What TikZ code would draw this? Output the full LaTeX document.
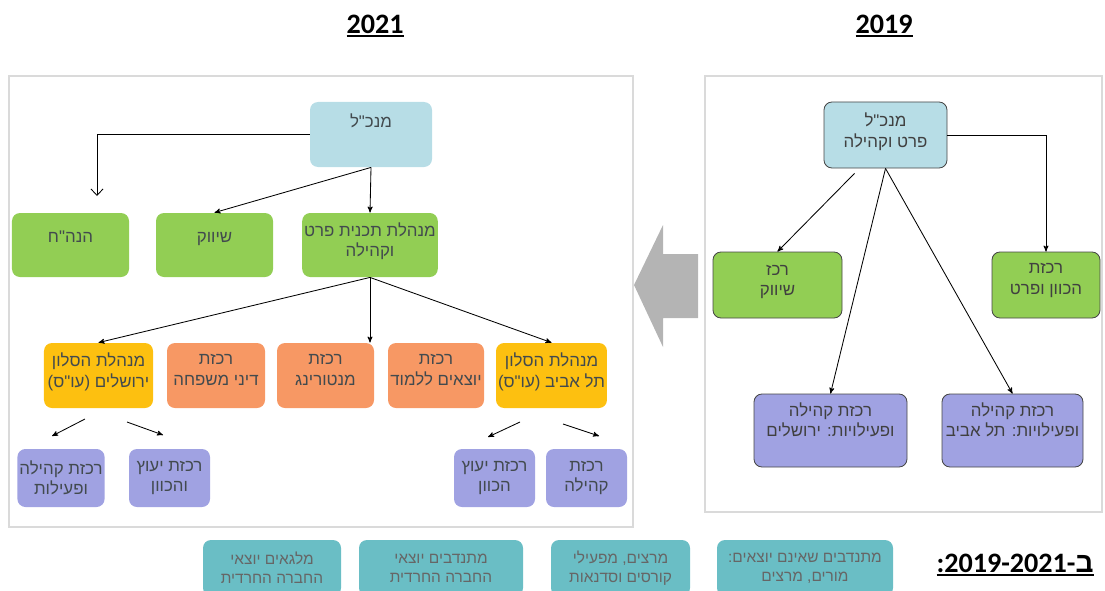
\documentclass[tikz,border=0pt]{standalone}
\usepackage{fontspec}
\setmainfont{Liberation Sans}
\newfontfamily\heb[Script=Hebrew]{Liberation Sans}
\newfontfamily\carl{Carlito}
\TeXXeTstate=1
\usetikzlibrary{arrows,arrows.meta}
\definecolor{frame_gray}{RGB}{218,218,218}
\definecolor{head_blue}{RGB}{183,221,230}
\definecolor{unit_green}{RGB}{146,206,84}
\definecolor{unit_orange}{RGB}{247,152,100}
\definecolor{unit_gold}{RGB}{253,192,16}
\definecolor{unit_lav}{RGB}{160,162,226}
\definecolor{vol_teal}{RGB}{106,190,197}
\definecolor{arrow_gray}{RGB}{180,180,180}
\definecolor{text_gray}{RGB}{66,74,78}
\definecolor{edge_dark}{RGB}{70,70,70}
\newcommand{\rl}[1]{\beginR #1\endR}
\newcommand{\titul}[1]{\setbox0=\hbox{#1}\leavevmode\rlap{\rule[-2.6pt]{\wd0}{1.3pt}}\box0}

\begin{document}
\begin{tikzpicture}[->,>=stealth',line width=0.6pt,x=0.25mm,y=-0.25mm]
    \tikzstyle{box}=[rounded corners=2mm, align=center, inner sep=0.5mm, text=text_gray, font=\heb\fontsize{12}{14.5}\selectfont]
    \tikzstyle{head}=[box, fill=head_blue]
    \tikzstyle{grnbox}=[box, fill=unit_green]
    \tikzstyle{orgbox}=[box, fill=unit_orange, minimum height=16.25mm, text depth=2.8mm]
    \tikzstyle{goldbox}=[box, fill=unit_gold, minimum height=16.25mm, text depth=2.6mm]
    \tikzstyle{lavbox}=[box, fill=unit_lav]
    \tikzstyle{volbox}=[box, fill=vol_teal, font=\heb\fontsize{11}{13.5}\selectfont, text=black!60, minimum height=14mm]
    \tikzstyle{ruled}=[draw=edge_dark, line width=0.6pt, text=black!75]
    \tikzstyle{title}=[font=\carl\bfseries\fontsize{20}{24}\selectfont, text=black]

    \useasboundingbox (0,0) rectangle (1105,590);

    % panels
    \draw[-,frame_gray,line width=0.8pt] (9,76) rectangle (633,527);
    \draw[-,frame_gray,line width=0.8pt] (705,76) rectangle (1102,512);
    \node[title] (y2021) at (375,26) {\titul{2021}};
    \node[title] (y2019) at (884,26) {\titul{2019}};

    % 2021
    \node[head, minimum width=30.5mm, minimum height=16.25mm, text depth=7mm] (mgrL) at (371,134.5) {\rl{מנכ"ל}};
    \node[grnbox, minimum width=29.25mm, minimum height=16mm, text depth=4mm] (hnh) at (70.5,245) {\rl{הנה"ח}};
    \node[grnbox, minimum width=29.25mm, minimum height=16mm, text depth=4mm] (shv) at (214.5,245) {\rl{שיווק}};
    \node[grnbox, minimum width=33.5mm, minimum height=16mm, text depth=2.75mm] (mgmt) at (370,245) {\rl{מנהלת תכנית פרט}\\\rl{וקהילה}};

    \node[goldbox, minimum width=27.25mm] (jer) at (98.5,375.5) {\rl{מנהלת הסלון}\\\rl{ירושלים (עו"ס)}};
    \node[orgbox, minimum width=24.5mm] (fam) at (216,375.5) {\rl{רכזת}\\\rl{דיני משפחה}};
    \node[orgbox, minimum width=24.25mm] (ment) at (325.5,375.5) {\rl{רכזת}\\\rl{מנטורינג}};
    \node[orgbox, minimum width=24mm] (grad) at (436,375.5) {\rl{רכזת}\\\rl{יוצאים ללמוד}};
    \node[goldbox, minimum width=26.25mm] (ta) at (551.5,375.5) {\rl{מנהלת הסלון}\\\rl{תל אביב (עו"ס)}};

    \node[lavbox, minimum width=20.5mm, minimum height=14.5mm] (jcom) at (61,478) {\rl{רכזת קהילה}\\\rl{ופעילות}};
    \node[lavbox, minimum width=20.25mm, minimum height=14.5mm] (jadv) at (169.5,478) {\rl{רכזת יעוץ}\\\rl{והכוון}};
    \node[lavbox, minimum width=20.25mm, minimum height=14.5mm] (tadv) at (494.5,478) {\rl{רכזת יעוץ}\\\rl{הכוון}};
    \node[lavbox, minimum width=20.25mm, minimum height=14.5mm] (tcom) at (586.5,478) {\rl{רכזת}\\\rl{קהילה}};

    \coordinate (hnhin) at (97,196);
    \coordinate (jA) at (85,419);  \coordinate (jAe) at (52,436);
    \coordinate (jB) at (127,422); \coordinate (jBe) at (163,435);
    \coordinate (tA) at (520,422); \coordinate (tAe) at (488,437);
    \coordinate (tB) at (563,424); \coordinate (tBe) at (599,436);

    \path
     (mgrL.west) edge[-{Straight Barb[length=1.6mm,width=3mm]}, to path={-| (\tikztotarget)}] (hnhin)
     (mgrL.south) edge (shv.north)
     (mgrL.south) edge (mgmt.north)
     (mgmt.south) edge (jer.north)
     (mgmt.south) edge (mgmt.south |- ment.north)
     (mgmt.south) edge (ta.north)
     (jA) edge (jAe)
     (jB) edge (jBe)
     (tA) edge (tAe)
     (tB) edge (tBe)
     ;

    % change arrow
    \fill[arrow_gray] (634,285) -- (663,225) -- (663,254) -- (698,254) -- (698,318) -- (663,318) -- (663,347) -- cycle;

    % 2019
    \node[head, ruled, minimum width=30.75mm, minimum height=16.5mm, text depth=2.5mm] (mgrR) at (885.5,135) {\rl{מנכ"ל}\\\rl{פרט וקהילה}};
    \node[grnbox, ruled, minimum width=32.25mm, minimum height=16.5mm, text depth=2.4mm] (shvR) at (777.5,285) {\rl{רכז}\\\rl{שיווק}};
    \node[grnbox, ruled, minimum width=27mm, minimum height=16.5mm, text depth=3mm] (advR) at (1046,285) {\rl{רכזת}\\\rl{הכוון ופרט}};
    \node[lavbox, ruled, minimum width=38.25mm, minimum height=18.25mm, text depth=5.5mm] (lavRJ) at (830.5,430.5) {\rl{רכזת קהילה}\\\rl{ופעילויות: ירושלים}};
    \node[lavbox, ruled, minimum width=35.25mm, minimum height=18.25mm, text depth=5.5mm] (lavRT) at (1012.5,430.5) {\rl{רכזת קהילה}\\\rl{ופעילויות: תל אביב}};

    \path
     (mgrR.east) edge[to path={-| (\tikztotarget)}] (advR.north)
     ([xshift=-7.75mm,yshift=-1.25mm]mgrR.south) edge (shvR.north)
     (mgrR.south) edge (lavRJ.north)
     (mgrR.south) edge (lavRT.north)
     ;

    % volunteers
    \node[volbox, minimum width=34.5mm] (vol1) at (272,568) {\rl{מלגאים יוצאי}\\\rl{החברה החרדית}};
    \node[volbox, minimum width=41mm] (vol2) at (441,568) {\rl{מתנדבים יוצאי}\\\rl{החברה החרדית}};
    \node[volbox, minimum width=34.75mm] (vol3) at (620.5,568) {\rl{מרצים, מפעילי}\\\rl{קורסים וסדנאות}};
    \node[volbox, minimum width=44mm] (vol4) at (805,568) {\rl{מתנדבים שאינם יוצאים:}\\\rl{מורים, מרצים}};
    \node[title] (period) at (1015,565) {\titul{\beginR{\heb ב}-\beginL 2019-2021\endL:\endR}};
\end{tikzpicture}
\end{document}
